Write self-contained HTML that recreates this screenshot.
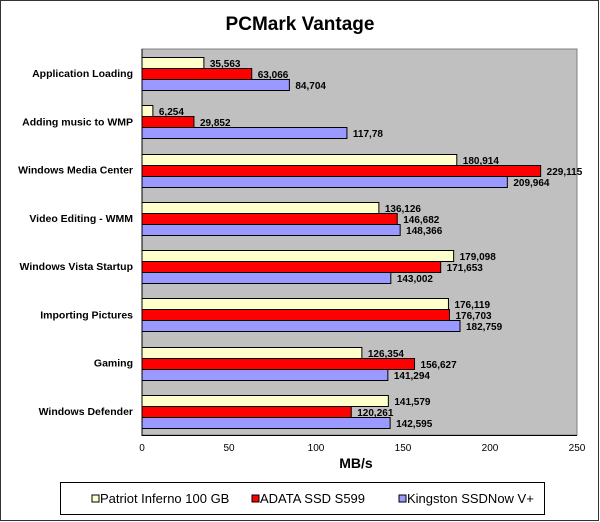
<!DOCTYPE html>
<html><head><style>body{margin:0;background:#fff}svg{display:block}</style></head><body>
<svg width="600" height="522" xmlns="http://www.w3.org/2000/svg" font-family="Liberation Sans, Arial, sans-serif">
<rect x="0.5" y="0.5" width="598" height="520" fill="#fff" stroke="#333"/>
<text x="300" y="30" text-anchor="middle" font-size="19" font-weight="bold">PCMark Vantage</text>
<rect x="142" y="49" width="435" height="386" fill="#c0c0c0" stroke="#808080"/>
<line x1="142" y1="49" x2="142" y2="436" stroke="#000"/>
<line x1="142" y1="435.5" x2="577" y2="435.5" stroke="#000"/>
<g id="bars" stroke="#000" stroke-width="1"></g>
<g font-size="10" text-anchor="middle">
<text x="142" y="451">0</text><text x="229" y="451">50</text><text x="316" y="451">100</text><text x="403" y="451">150</text><text x="490" y="451">200</text><text x="577" y="451">250</text>
</g>
<text x="356" y="468" text-anchor="middle" font-size="14" font-weight="bold">MB/s</text>
<rect x="60.5" y="482.5" width="484" height="32" fill="#fff" stroke="#000"/>
<g font-size="13">
<rect x="92" y="495" width="7" height="7" fill="#ffffcc" stroke="#000"/><text x="100" y="503">Patriot Inferno 100 GB</text>
<rect x="252" y="495" width="7" height="7" fill="#ff0000" stroke="#000"/><text x="260" y="503">ADATA SSD S599</text>
<rect x="399" y="495" width="7" height="7" fill="#9999ff" stroke="#000"/><text x="407" y="503">Kingston SSDNow V+</text>
</g>
<g id="labels" font-size="10.5" font-weight="bold"></g>
</svg>
<script>
var d=[["Application Loading",[35.563,63.066,84.704],["35,563","63,066","84,704"]],
["Adding music to WMP",[6.254,29.852,117.78],["6,254","29,852","117,78"]],
["Windows Media Center",[180.914,229.115,209.964],["180,914","229,115","209,964"]],
["Video Editing - WMM",[136.126,146.682,148.366],["136,126","146,682","148,366"]],
["Windows Vista Startup",[179.098,171.653,143.002],["179,098","171,653","143,002"]],
["Importing Pictures",[176.119,176.703,182.759],["176,119","176,703","182,759"]],
["Gaming",[126.354,156.627,141.294],["126,354","156,627","141,294"]],
["Windows Defender",[141.579,120.261,142.595],["141,579","120,261","142,595"]]];
var c=["#ffffcc","#ff0000","#9999ff"],ns="http://www.w3.org/2000/svg",b=document.getElementById("bars"),l=document.getElementById("labels");
function el(t,a,p,s){var e=document.createElementNS(ns,t);for(var k in a)e.setAttribute(k,a[k]);if(s)e.textContent=s;p.appendChild(e);}
d.forEach(function(r,i){var t=49+48.25*i;
el("text",{x:133,y:t+28,"text-anchor":"end"},l,r[0]);
for(var j=0;j<3;j++){var w=r[1][j]*1.74,y=Math.round(t+8+11*j);
el("rect",{x:142,y:y+0.5,width:w,height:11,fill:c[j]},b);
el("text",{x:142+w+6,y:y+10,"font-size":"10"},l,r[2][j]);}
});
</script>
</body></html>
